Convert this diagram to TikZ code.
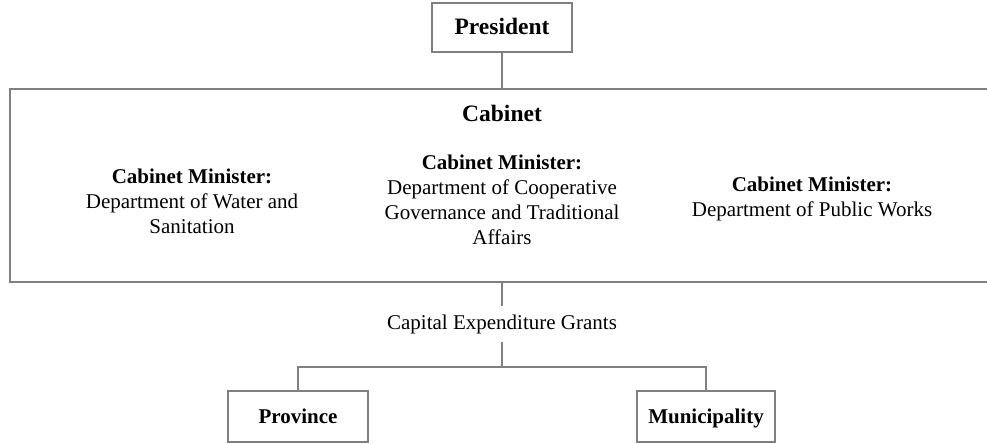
\documentclass[tikz,border=0pt]{standalone}
\usepackage{fontspec}
\setmainfont{Liberation Serif}
\usetikzlibrary{positioning}
\definecolor{linegray}{RGB}{128,128,128}
\tikzset{
  orgbox/.style={draw=linegray, line width=2pt, inner sep=0pt,
    text height=14pt, text depth=0pt,
    font=\bfseries\fontsize{21}{25}\selectfont},
  orgline/.style={draw=linegray, line width=2pt},
  headtext/.style={font=\bfseries\fontsize{23.5}{28}\selectfont},
  minister/.style={align=center, font=\fontsize{21}{25}\selectfont},
}

\begin{document}
\begin{tikzpicture}[x=1pt, y=-1pt]
    \useasboundingbox (0,0) rectangle (987,444);

    % Top of the chart
    \node[orgbox, headtext, minimum width=140pt, minimum height=49pt] (pres) at (502,27.5) {President};

    % Cabinet frame (runs off the right edge)
    \node[orgbox, minimum width=981pt, minimum height=193pt, anchor=north west] (cab) at (9,88) {};
    \node[headtext] (cabtitle) at (502,113) {Cabinet};

    % Ministers
    \node[minister] (water) at (192,201) {\textbf{Cabinet Minister:}\\Department of Water and\\Sanitation};
    \node[minister] (cogta) at (502,200) {\textbf{Cabinet Minister:}\\Department of Cooperative\\Governance and Traditional\\Affairs};
    \node[minister] (works) at (812,199) {\textbf{Cabinet Minister:}\\Department of Public Works};

    % Grants and receivers
    \node[minister, inner sep=8pt] (grants) at (502,324) {Capital Expenditure Grants};
    \coordinate (split) at (502,367);
    \node[orgbox, minimum width=140pt, minimum height=51pt] (prov) at (298,416.5) {Province};
    \node[orgbox, minimum width=138pt, minimum height=51pt] (muni) at (706,416.5) {Municipality};

    % Connectors
    \draw[orgline] (pres.south) -- (pres.south |- cab.north);
    \draw[orgline] (grants.north |- cab.south) -- (grants.north);
    \draw[orgline] (grants.south) -- (split);
    \draw[orgline] (prov.north) |- (split) -| (muni.north);

\end{tikzpicture}
\end{document}
